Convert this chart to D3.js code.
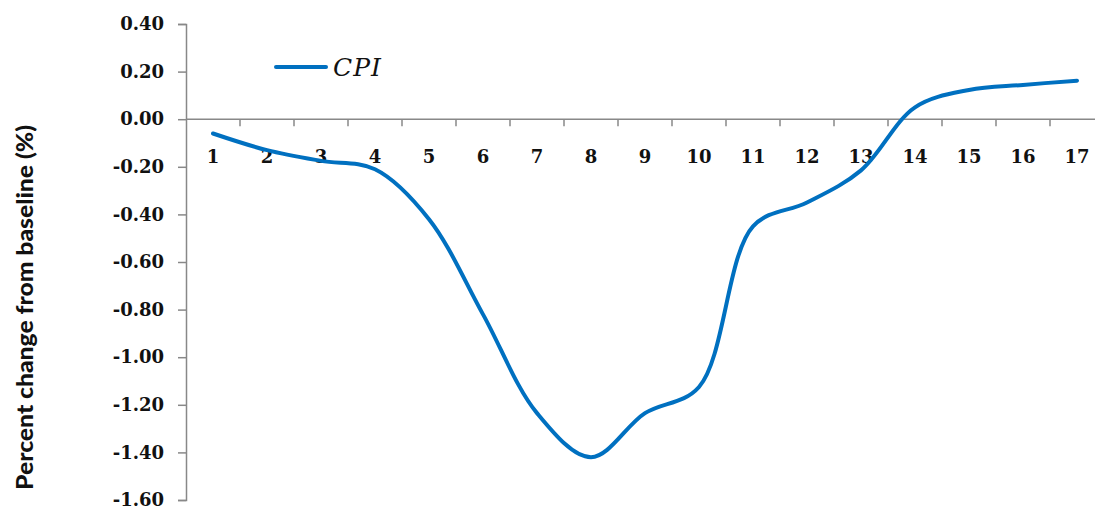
<!DOCTYPE html>
<html lang="en">
<head>
  <meta charset="UTF-8">
  <title>CPI percent change from baseline</title>
  <style>
    body { margin: 0; background: #fff; }
    svg { display: block; }
  </style>
  <script src="https://d3js.org/d3.v7.min.js"></script>
</head>
<body>
  <div id="chart"></div>
  <script>
    // data
    const periods = ["1","2","3","4","5","6","7","8","9","10","11","12","13","14","15","16","17"];
    const cpi = [-0.06, -0.13, -0.175, -0.21, -0.42, -0.82, -1.235, -1.42, -1.235, -1.125, -0.45, -0.35, -0.215, 0.05, 0.123, 0.144, 0.162];
    const yTicks = [0.4, 0.2, 0, -0.2, -0.4, -0.6, -0.8, -1.0, -1.2, -1.4, -1.6];

    const W = 1095, H = 510;
    const plotLeft = 186, plotTop = 24, plotBottom = 500;

    const svg = d3.select("#chart").append("svg")
      .attr("width", W)
      .attr("height", H);

    const x = d3.scaleBand()
      .domain(periods)
      .range([plotLeft, plotLeft + 54 * periods.length]);

    const y = d3.scaleLinear()
      .domain([-1.6, 0.4])
      .range([plotBottom, plotTop]);

    const serif = "'DejaVu Serif', serif";

    // y axis
    const yAxis = svg.append("g")
      .attr("transform", `translate(${plotLeft},0)`)
      .call(d3.axisLeft(y).tickValues(yTicks).tickSizeOuter(0).tickSize(8).tickPadding(14)
        .tickFormat(d3.format(".2f")));
    yAxis.select(".domain").attr("stroke", "#888").attr("stroke-width", 1.5);
    yAxis.selectAll(".tick line").attr("stroke", "#888").attr("stroke-width", 1.5);
    yAxis.selectAll(".tick text")
      .attr("font-family", serif)
      .attr("font-weight", "bold")
      .attr("font-size", 18)
      .attr("fill", "#111")
      .text(d => d3.format(".2f")(d).replace("−", "-"));

    // x axis along zero
    const y0 = y(0);
    svg.append("line")
      .attr("x1", plotLeft).attr("x2", W)
      .attr("y1", y0).attr("y2", y0)
      .attr("stroke", "#888").attr("stroke-width", 1.5);
    svg.append("g").selectAll("line")
      .data(periods.slice(1))
      .join("line")
      .attr("x1", d => x(d)).attr("x2", d => x(d))
      .attr("y1", y0).attr("y2", y0 + 7)
      .attr("stroke", "#888").attr("stroke-width", 1.5);
    svg.append("g").selectAll("text")
      .data(periods)
      .join("text")
      .attr("x", d => x(d) + x.bandwidth() / 2)
      .attr("y", y0 + 44)
      .attr("text-anchor", "middle")
      .attr("font-family", serif)
      .attr("font-weight", "bold")
      .attr("font-size", 18)
      .attr("fill", "#111")
      .text(d => d);

    // line
    const line = d3.line()
      .x((d, i) => x(periods[i]) + x.bandwidth() / 2)
      .y(d => y(d))
      .curve(d3.curveCatmullRom.alpha(0.5));

    svg.append("path")
      .datum(cpi)
      .attr("fill", "none")
      .attr("stroke", "#0070c0")
      .attr("stroke-width", 4)
      .attr("stroke-linecap", "round")
      .attr("d", line);

    // legend
    svg.append("line")
      .attr("x1", 276).attr("x2", 326)
      .attr("y1", 67).attr("y2", 67)
      .attr("stroke", "#0070c0")
      .attr("stroke-width", 4)
      .attr("stroke-linecap", "round");
    svg.append("text")
      .attr("x", 333).attr("y", 76)
      .attr("font-family", serif)
      .attr("font-style", "italic")
      .attr("font-size", 25)
      .attr("letter-spacing", 1)
      .attr("fill", "#111")
      .text("CPI");

    // y title
    svg.append("text")
      .attr("transform", `translate(33,${(125 + 490) / 2}) rotate(-90)`)
      .attr("text-anchor", "middle")
      .attr("font-family", "Lato, sans-serif")
      .attr("font-weight", "900")
      .attr("font-size", 23)
      .attr("textLength", 365)
      .attr("lengthAdjust", "spacingAndGlyphs")
      .attr("fill", "#111")
      .text("Percent change from baseline (%)");
  </script>
</body>
</html>
